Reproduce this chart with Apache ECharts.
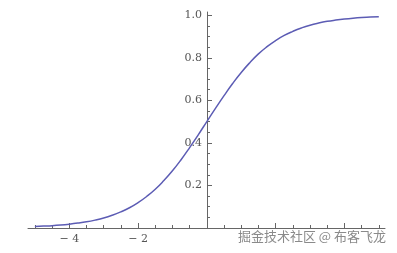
<!DOCTYPE html>
<html><head><meta charset="utf-8">
<script src="https://cdn.jsdelivr.net/npm/echarts@6/dist/echarts.min.js"></script>
<style>html,body{margin:0;padding:0;background:#fff}#c{width:397px;height:253px}</style>
</head><body><div id="c"></div>
<script>
// values
const xValues = [-5,-4.75,-4.5,-4.25,-4,-3.75,-3.5,-3.25,-3,-2.75,-2.5,-2.25,-2,-1.75,-1.5,-1.25,-1,-0.75,-0.5,-0.25,0,
                 0.25,0.5,0.75,1,1.25,1.5,1.75,2,2.25,2.5,2.75,3,3.25,3.5,3.75,4,4.25,4.5,4.75,5];
const yValues = [0.007,0.009,0.011,0.014,0.018,0.023,0.029,0.037,0.047,0.060,0.076,0.095,0.119,0.148,0.182,0.223,0.269,0.321,0.378,0.438,0.5,
                 0.562,0.622,0.679,0.731,0.777,0.818,0.852,0.881,0.905,0.924,0.940,0.953,0.963,0.971,0.977,0.982,0.986,0.989,0.991,0.993];
const xLabelTicks = [-4,-2];
const xMajorTicks = [-4,-2,2,4];
const xMinorTicks = [-5,-4.5,-3.5,-3,-2.5,-1.5,-1,-0.5,0.5,1,1.5,2.5,3,3.5,4.5,5];
const yMajorTicks = [0.2,0.4,0.6,0.8,1.0];
const yMinorTicks = [0.05,0.1,0.15,0.25,0.3,0.35,0.45,0.5,0.55,0.65,0.7,0.75,0.85,0.9,0.95];
const watermark = '掘金技术社区 @ 布客飞龙';

const axisColor = '#666';
const labelFont = {fontFamily:'DejaVu Serif', fontSize:11, color:'#555'};
const chart = echarts.init(document.getElementById('c'));
const xCommon = {type:'value', min:-5.2, max:5.18, splitLine:{show:false}, position:'bottom', offset:0};
const yCommon = {type:'value', min:0, max:1.015, splitLine:{show:false}, position:'left', offset:-179};
chart.setOption({
  animation:false,
  grid:{left:28,right:12,top:12,bottom:25},
  xAxis:[
    Object.assign({}, xCommon, {
      axisLine:{onZero:false, lineStyle:{color:axisColor, width:1}},
      axisTick:{inside:true, length:5, customValues:xMajorTicks, lineStyle:{color:axisColor}},
      axisLabel:{customValues:xLabelTicks, margin:6, formatter:v=>(v<0?'\u2212 ':'')+Math.abs(v), ...labelFont}
    }),
    Object.assign({}, xCommon, {
      axisLine:{show:false, onZero:false},
      axisTick:{inside:true, length:3, customValues:xMinorTicks, lineStyle:{color:axisColor}},
      axisLabel:{show:false}
    })
  ],
  yAxis:[
    Object.assign({}, yCommon, {
      axisLine:{onZero:false, lineStyle:{color:axisColor, width:1}},
      axisTick:{inside:true, length:5, customValues:yMajorTicks, lineStyle:{color:axisColor}},
      axisLabel:{customValues:yMajorTicks, margin:5, formatter:v=>v.toFixed(1), ...labelFont}
    }),
    Object.assign({}, yCommon, {
      axisLine:{show:false, onZero:false},
      axisTick:{inside:true, length:3, customValues:yMinorTicks, lineStyle:{color:axisColor}},
      axisLabel:{show:false}
    })
  ],
  series:[{
    type:'line', smooth:true, showSymbol:false, symbol:'none',
    data:xValues.map((x,i)=>[x,yValues[i]]),
    lineStyle:{color:'#5c5cb4', width:1.5}
  }],
  graphic:[{
    type:'text', right:10, top:229,
    style:{text:watermark, font:'13px "Noto Sans CJK SC"', fill:'#8a8a8a', stroke:'#fff', lineWidth:2}
  }]
});
</script></body></html>
